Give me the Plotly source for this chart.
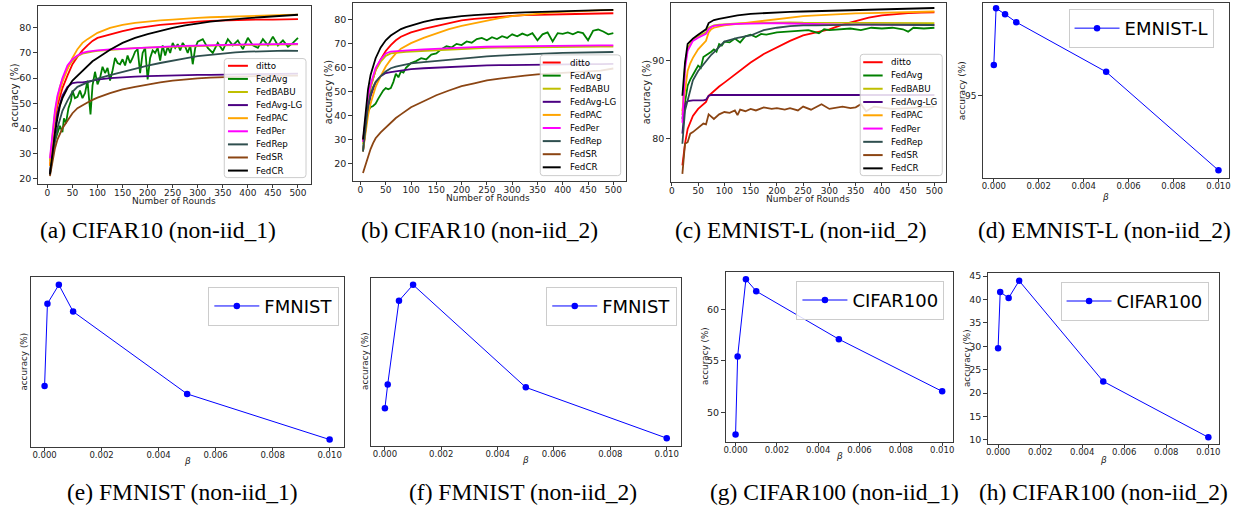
import plotly.graph_objects as go

W, H = 1239, 514

SERIES = ["ditto", "FedAvg", "FedBABU", "FedAvg-LG", "FedPAC", "FedPer", "FedRep", "FedSR", "FedCR"]
COLORS = ["#ff0000", "#008000", "#bfbf00", "#4b0082", "#ffa500", "#ff00ff", "#2f4f4f", "#8b4513", "#000000"]

# ---------------- panel (a) CIFAR10 non-iid_1 ----------------
R_A = [5, 10, 15, 20, 25, 30, 40, 50, 60, 70, 80, 90, 100, 125, 150, 175, 200, 225, 250, 275,
       300, 325, 350, 375, 400, 425, 450, 475, 500]
A_DITTO = [25, 35, 43, 49, 53, 56, 61, 65.5, 68.5, 71, 73, 74.8, 76, 77.5, 78.7, 79.8, 80.6, 81.2, 81.6, 82.1,
           82.5, 82.8, 83, 83.1, 83.2, 83.3, 83.3, 83.4, 83.5]
A_PAC = [25, 36, 45, 51, 55, 58.5, 63.5, 68, 71.5, 74, 75.5, 76.8, 78, 80, 81.2, 82, 82.6, 83, 83.3, 83.7,
         84, 84.2, 84.4, 84.6, 84.7, 84.9, 85, 85.1, 85.2]
A_PER = [28, 38, 47, 53, 57, 60, 65, 67.5, 69, 70, 70.5, 70.8, 71, 71.4, 71.7, 72, 72.2, 72.4, 72.6, 72.8,
         73, 73.1, 73.2, 73.3, 73.4, 73.5, 73.5, 73.6, 73.6]
A_BABU = [27, 37, 46, 52, 56.5, 59.5, 64, 67, 68.7, 69.7, 70.2, 70.5, 70.8, 71.2, 71.6, 71.9, 72.1, 72.3, 72.5, 72.7,
          72.8, 72.9, 73, 73.1, 73.2, 73.3, 73.3, 73.4, 73.4]
A_CR = [21.7, 30, 38, 44, 49, 52, 56, 59, 61, 63, 65, 66.7, 68, 71.3, 74, 76, 77.5, 78.8, 80, 81,
        81.8, 82.5, 83, 83.5, 83.9, 84.2, 84.5, 84.8, 85.2]
A_REP = [21.5, 29, 35, 40, 44, 47, 51, 54.5, 56.5, 57.5, 58.3, 59, 59.8, 61.2, 62.5, 63.8, 65, 66, 67, 67.8,
         68.7, 69.3, 69.8, 70.2, 70.5, 70.7, 70.8, 70.9, 70.8]
A_LG = [22, 31, 40, 46, 50, 53, 56.5, 58, 58.3, 58.3, 58.6, 59, 59.4, 60, 60.4, 60.6, 60.8, 61, 61.1, 61.2,
        61.3, 61.3, 61.4, 61.4, 61.5, 61.5, 61.6, 61.7, 61.8]
A_SR = [21, 27, 32, 35.5, 38, 40, 43, 46, 48, 49.3, 50.3, 51.3, 52.2, 54, 55.5, 56.5, 57.5, 58.3, 59, 59.5,
        59.9, 60.2, 60.4, 60.5, 60.7, 60.8, 60.9, 61, 61]
R_A_AVG = [5, 10, 15, 20, 25, 30, 33, 37, 42, 47, 50, 55, 60, 65, 70, 75, 80, 83, 86, 90,
           95, 100, 105, 110, 115, 120, 125, 130, 135, 140, 145, 150, 155, 160, 165, 170, 175, 180, 185, 190,
           195, 200, 205, 210, 215, 220, 225, 230, 235, 240, 245, 250, 255, 260, 265, 270, 275, 280, 285, 290,
           295, 300, 310, 320, 330, 340, 350, 360, 370, 380, 390, 400, 410, 420, 430, 440, 450, 460, 470, 480,
           490, 500]
A_AVG = [22, 30, 35, 38, 41, 38.5, 44, 42, 48, 51, 55, 52, 52.5, 55, 52, 54, 59, 52, 45.5, 57,
         62.5, 57.5, 60, 64.5, 62, 64, 59, 63, 68, 66, 65.5, 67.5, 65, 69, 66, 68, 70.5, 71.5, 62, 70,
         72, 59.5, 68, 71, 70, 72, 67, 73, 69, 72.5, 70, 74, 72, 73.5, 71, 74, 72.5, 70, 73, 65.5,
         72, 74.5, 75.5, 72, 70, 74, 71, 75.5, 73, 75, 71.5, 76, 73, 72, 75.5, 73, 76.5, 73, 75, 72.5,
         74, 76]

# ---------------- panel (b) CIFAR10 non-iid_2 ----------------
R_B = R_A
B_DITTO = [29, 38, 46, 52, 56, 59, 63.5, 67, 69.5, 71.5, 73, 74, 74.8, 76.3, 77.5, 78.7, 79.8, 80.5, 81, 81.4,
           81.7, 82, 82.2, 82.3, 82.4, 82.5, 82.6, 82.7, 82.8]
B_PAC = [25, 33, 40, 45, 49, 52, 56.5, 60.5, 63.5, 66, 68, 69.3, 70.3, 72.5, 74.5, 76.2, 77.5, 78.7, 79.8, 80.8,
         81.6, 82.2, 82.7, 83.1, 83.4, 83.7, 83.9, 84, 84.1]
B_CR = [30, 42, 51, 57, 61, 64, 68.5, 71.5, 73.5, 75, 76.2, 77, 77.7, 79.2, 80.3, 81, 81.6, 82, 82.4, 82.7,
        83, 83.2, 83.4, 83.6, 83.8, 83.9, 84, 84.1, 84.2]
B_PER = [29, 40, 48, 53, 57, 60, 63.5, 66, 66.8, 67, 67.2, 67.3, 67.4, 67.7, 68, 68.3, 68.5, 68.6, 68.8, 68.9,
         69, 69.1, 69.1, 69.2, 69.3, 69.3, 69.3, 69.4, 69.4]
B_BABU = [28, 39, 47, 52, 56, 59, 62.5, 65, 66, 66.3, 66.5, 66.7, 66.8, 67.1, 67.4, 67.7, 68, 68.1, 68.3, 68.4,
          68.5, 68.6, 68.6, 68.7, 68.7, 68.8, 68.8, 68.9, 68.9]
B_REP = [25, 36, 44, 49, 52, 54, 56.5, 58.5, 59.8, 60.5, 61, 61.5, 61.8, 62.4, 62.9, 63.5, 64, 64.4, 64.8, 65.1,
         65.4, 65.6, 65.8, 66, 66.2, 66.3, 66.5, 66.6, 66.6]
B_LG = [25, 35, 43, 48, 51.5, 54, 56.5, 57.8, 58.2, 58.5, 58.8, 59.1, 59.4, 59.8, 60.1, 60.4, 60.7, 60.9, 61, 61.1,
        61.2, 61.3, 61.3, 61.4, 61.4, 61.5, 61.5, 61.5, 61.6]
B_SR = [16, 19.5, 23, 26, 28.5, 30.5, 33, 35, 37, 39, 40.5, 42, 43.5, 46, 48.5, 50.5, 52.3, 53.5, 54.7, 55.5,
        56.2, 56.7, 57.2, 57.5, 57.7, 57.9, 58.2, 58.8, 59.7]
R_B_AVG = [5, 10, 15, 20, 25, 30, 35, 40, 45, 50, 55, 60, 65, 70, 75, 80, 85, 90, 95, 100,
           110, 120, 130, 140, 150, 160, 170, 180, 190, 200, 210, 220, 230, 240, 250, 260, 270, 280, 290, 300,
           310, 320, 330, 340, 350, 360, 370, 380, 390, 400, 410, 420, 430, 440, 450, 460, 470, 480, 490, 500]
B_AVG = [25, 35, 42, 43.5, 44, 45, 47, 49, 50.5, 51.5, 51, 51.5, 54, 57.5, 56, 58.5, 58, 60, 61, 62,
         62.8, 64, 63.5, 65.5, 66, 67.8, 69, 68.5, 70, 69.5, 71, 70.5, 72, 72.5, 71.5, 72.8, 72, 73.2, 72.5, 74,
         73.2, 74.3, 73.5, 74.5, 71.5, 74, 74.8, 71, 74.5, 74.2, 74.8, 74, 75, 74.5, 71.5, 75.5, 76, 75.2, 74, 74.5]

# ---------------- panel (c) EMNIST-L non-iid_2 ----------------
R_C = [20, 25, 30, 35, 40, 50, 60, 65, 70, 75, 80, 90, 100, 125, 150, 175, 200, 225, 250, 275,
       300, 325, 350, 375, 400, 425, 450, 475, 500]
C_CR = [85.5, 89.8, 92.2, 92.6, 92.9, 93.4, 93.8, 94.1, 94.9, 95.1, 95.3, 95.45, 95.6, 95.9, 96.1, 96.2, 96.3,
        96.35, 96.4, 96.45, 96.5, 96.55, 96.6, 96.62, 96.65, 96.7, 96.75, 96.8, 96.85]
C_PAC = [83.5, 86.5, 88.7, 89.7, 90.4, 91.5, 92.2, 92.6, 93.7, 94.1, 94.3, 94.5, 94.6, 94.8, 95, 95.2, 95.4,
         95.6, 95.8, 95.9, 96, 96.1, 96.15, 96.2, 96.25, 96.3, 96.3, 96.35, 96.4]
C_PER = [82, 89, 91.3, 92, 92.6, 93, 93.3, 93.5, 94.1, 94.4, 94.55, 94.65, 94.7, 94.8, 94.85, 94.9, 94.9,
         94.85, 94.8, 94.75, 94.7, 94.7, 94.7, 94.7, 94.65, 94.65, 94.65, 94.65, 94.65]
C_BABU = [83, 89.5, 91.6, 92.3, 92.8, 93.2, 93.5, 93.7, 94.3, 94.5, 94.6, 94.7, 94.75, 94.85, 94.9, 94.95, 95,
          95, 94.95, 94.95, 94.9, 94.9, 94.9, 94.9, 94.9, 94.9, 94.9, 94.9, 94.9]
C_DITTO = [76.5, 79.3, 81.2, 82.2, 82.9, 83.8, 84.4, 84.7, 85.5, 85.8, 86.2, 86.7, 87.2, 88.5, 89.8, 90.9, 91.8,
           92.6, 93.3, 93.7, 94.1, 94.7, 95.2, 95.6, 95.9, 96.05, 96.2, 96.25, 96.3]
C_REP = [79.3, 83.6, 84.9, 86.3, 87.5, 88.7, 89.6, 90, 90.5, 90.8, 91.1, 91.8, 92.5, 93.0, 93.3, 94.0, 94.3,
         94.5, 94.6, 94.6, 94.65, 94.7, 94.7, 94.7, 94.7, 94.7, 94.7, 94.7, 94.65]
C_LG = [80.6, 84.4, 84.8, 84.85, 84.9, 84.9, 84.9, 85.0, 85.5, 85.6, 85.6, 85.65, 85.65, 85.65, 85.65, 85.65,
        85.6, 85.6, 85.6, 85.6, 85.6, 85.6, 85.6, 85.6, 85.6, 85.6, 85.6, 85.6, 85.6]
R_C_AVG = [20, 25, 30, 35, 40, 45, 50, 55, 60, 65, 70, 75, 80, 85, 90, 95, 100, 110, 120, 130,
           140, 150, 160, 170, 180, 190, 200, 220, 240, 260, 280, 290, 300, 320, 340, 360, 380, 400, 420, 440,
           450, 460, 480, 500]
C_AVG = [82.5, 84.9, 86.8, 87.6, 88.3, 88.8, 89.4, 89.1, 90.5, 90.7, 90.9, 91.2, 91.5, 91.2, 92.2, 92.0, 92.5,
         92.4, 92.9, 92.4, 93.2, 93.4, 93.1, 93.5, 93.4, 93.6, 93.7, 93.8, 93.9, 94.0, 93.6, 94.1, 94.0, 94.1,
         94.2, 94.0, 94.3, 94.2, 94.3, 94.1, 93.8, 94.3, 94.2, 94.3]
R_C_SR = [20, 25, 30, 35, 40, 50, 60, 65, 70, 75, 80, 90, 100, 110, 120, 125, 130, 140, 150, 160,
          175, 190, 200, 215, 225, 240, 250, 265, 275, 285, 300, 315, 325, 340, 350, 360, 370, 385, 400, 420,
          450, 475, 500]
C_SR = [75.4, 79.3, 79.5, 80.6, 80.8, 81.4, 81.9, 81.8, 83.1, 82.8, 82.5, 83.1, 83.4, 83.3, 83.6, 83.0, 83.7,
        83.5, 83.8, 83.6, 84.0, 83.8, 83.9, 83.7, 83.9, 83.6, 84.1, 83.7, 84.0, 84.4, 83.8, 84.0, 84.1, 83.9,
        84.0, 84.4, 83.5, 84.1, 84.0, 83.8, 83.9, 84.0, 84.1]

# ---------------- beta sweeps (d)-(h) ----------------
BETA = [0, 0.0001, 0.0005, 0.001, 0.005, 0.01]
D_EMNIST = [95.31, 95.88, 95.82, 95.74, 95.24, 94.25]
E_FMNIST = [85.60, 86.43, 86.62, 86.35, 85.52, 85.06]
F_FMNIST = [85.39, 85.63, 86.47, 86.63, 85.60, 85.09]
G_CIFAR100 = [47.83, 55.43, 62.93, 61.77, 57.10, 52.03]
H_CIFAR100 = [29.6, 41.6, 40.33, 44.0, 22.5, 10.55]

ROUND_TICKS = [0, 50, 100, 150, 200, 250, 300, 350, 400, 450, 500]
BETA_TICKS = [0, 0.002, 0.004, 0.006, 0.008, 0.01]

CAPTIONS = ["(a) CIFAR10 (non-iid_1)", "(b) CIFAR10 (non-iid_2)", "(c) EMNIST-L (non-iid_2)",
            "(d) EMNIST-L (non-iid_2)", "(e) FMNIST (non-iid_1)", "(f) FMNIST (non-iid_2)",
            "(g) CIFAR100 (non-iid_1)", "(h) CIFAR100 (non-iid_2)"]

FRAME = "#3a3a3a"
TXT = "#222222"
FONT = "DejaVu Sans"


def px(x):
    return x / W


def py(y):
    return 1 - y / H


def xdom(x0, x1):
    return [px(x0), px(x1)]


def ydom(y0, y1):
    return [py(y1), py(y0)]


def axis(dom, rng, tickvals, size, anchor, fmt=None, show=True, standoff=0):
    d = dict(domain=dom, range=rng, showline=True, mirror=True, linecolor=FRAME, linewidth=1.3,
             ticks="outside" if show else "", ticklen=3.5, tickcolor=FRAME, tickwidth=1,
             showticklabels=show, tickfont=dict(size=size, color=TXT, family=FONT),
             showgrid=False, zeroline=False, anchor=anchor, ticklabelstandoff=standoff)
    if tickvals is not None:
        d["tickmode"] = "array"
        d["tickvals"] = tickvals
    if fmt:
        d["tickformat"] = fmt
    return d


fig = go.Figure()

# panels a-c curves
panel_data = [
    ("x", "y", [(R_A, A_DITTO), (R_A_AVG, A_AVG), (R_A, A_BABU), (R_A, A_LG), (R_A, A_PAC),
                (R_A, A_PER), (R_A, A_REP), (R_A, A_SR), (R_A, A_CR)]),
    ("x2", "y2", [(R_B, B_DITTO), (R_B_AVG, B_AVG), (R_B, B_BABU), (R_B, B_LG), (R_B, B_PAC),
                  (R_B, B_PER), (R_B, B_REP), (R_B, B_SR), (R_B, B_CR)]),
    ("x3", "y3", [(R_C, C_DITTO), (R_C_AVG, C_AVG), (R_C, C_BABU), (R_C, C_LG), (R_C, C_PAC),
                  (R_C, C_PER), (R_C, C_REP), (R_C_SR, C_SR), (R_C, C_CR)]),
]
for xa, ya, curves in panel_data:
    for (xs, ys), name, col in zip(curves, SERIES, COLORS):
        fig.add_trace(go.Scatter(x=xs, y=ys, mode="lines", name=name, showlegend=False,
                                 line=dict(color=col, width=1.8), xaxis=xa, yaxis=ya,
                                 hoverinfo="skip"))

# beta panels
beta_panels = [("x4", "y4", D_EMNIST, "EMNIST-L", "legend"),
               ("x5", "y5", E_FMNIST, "FMNIST", "legend2"),
               ("x6", "y6", F_FMNIST, "FMNIST", "legend3"),
               ("x7", "y7", G_CIFAR100, "CIFAR100", "legend4"),
               ("x8", "y8", H_CIFAR100, "CIFAR100", "legend5")]
for xa, ya, vals, name, lg in beta_panels:
    fig.add_trace(go.Scatter(x=BETA, y=vals, mode="lines+markers", name=name, legend=lg,
                             line=dict(color="#0000ff", width=1), marker=dict(size=6.5, color="#0000ff"),
                             xaxis=xa, yaxis=ya, hoverinfo="skip"))

layout = dict(width=W, height=H, margin=dict(l=0, r=0, t=0, b=0), paper_bgcolor="white",
              plot_bgcolor="white", font=dict(family=FONT, color=TXT))

# axes (pixel boxes)
layout["xaxis"] = axis(xdom(36, 310), [-19, 526], ROUND_TICKS, 9, "y", standoff=-3)
layout["yaxis"] = axis(ydom(4, 183), [18, 88.7], [20, 30, 40, 50, 60, 70, 80], 9.5, "x")
layout["xaxis2"] = axis(xdom(352, 626), [-15, 525], ROUND_TICKS, 9, "y2", standoff=-3)
layout["yaxis2"] = axis(ydom(1, 180), [12.8, 87.1], [20, 30, 40, 50, 60, 70, 80], 9.5, "x2")
layout["xaxis3"] = axis(xdom(671, 947), [-2, 522], ROUND_TICKS, 9, "y3", standoff=-3)
layout["yaxis3"] = axis(ydom(1, 181), [74.4, 97.5], [80, 90], 9.5, "x3")
layout["xaxis4"] = axis(xdom(984, 1231), [-0.00049, 0.01047], BETA_TICKS, 8.5, "y4", ".3f", standoff=-3)
layout["yaxis4"] = axis(ydom(1, 177), [94.176, 95.933], [95], 9, "x4")
layout["xaxis5"] = axis(xdom(29, 343), [-0.00048, 0.0105], BETA_TICKS, 8.5, "y5", ".3f", standoff=-3)
layout["yaxis5"] = axis(ydom(277, 448), [84.99, 86.70], None, 9, "x5", show=False)
layout["xaxis6"] = axis(xdom(370, 681), [-0.0005, 0.0105], BETA_TICKS, 8.5, "y6", ".3f", standoff=-3)
layout["yaxis6"] = axis(ydom(278, 447), [85.016, 86.70], None, 9, "x6", show=False)
layout["xaxis7"] = axis(xdom(726, 954), [-0.00048, 0.01052], BETA_TICKS, 8.5, "y7", ".3f", standoff=-3)
layout["yaxis7"] = axis(ydom(272, 443), [47.15, 63.65], [50, 55, 60], 9.5, "x7")
layout["xaxis8"] = axis(xdom(989, 1221), [-0.00049, 0.01051], BETA_TICKS, 8.5, "y8", ".3f", standoff=-3)
layout["yaxis8"] = axis(ydom(273, 445), [9.22, 45.69], [10, 15, 20, 25, 30, 35, 40, 45], 9.5, "x8")


def lg(x, y):
    return dict(x=px(x), y=py(y), xanchor="left", yanchor="top", bgcolor="rgba(255,255,255,0.85)",
                bordercolor="#cccccc", borderwidth=1, font=dict(size=18, family=FONT, color="black"),
                itemwidth=45)


layout["legend"] = lg(1070, 7)
layout["legend2"] = lg(207, 287)
layout["legend3"] = lg(546, 287)
layout["legend4"] = lg(797, 281)
layout["legend5"] = lg(1062, 282)

shapes = []
annotations = []


def rrect(x0, y0, x1, y1, r=3):
    rx, ry = r / W, r / H
    X0, X1, Y0, Y1 = px(x0), px(x1), py(y1), py(y0)
    p = (f"M{X0+rx},{Y0} L{X1-rx},{Y0} Q{X1},{Y0} {X1},{Y0+ry} L{X1},{Y1-ry} Q{X1},{Y1} {X1-rx},{Y1} "
         f"L{X0+rx},{Y1} Q{X0},{Y1} {X0},{Y1-ry} L{X0},{Y0+ry} Q{X0},{Y0} {X0+rx},{Y0} Z")
    return dict(type="path", path=p, xref="paper", yref="paper", fillcolor="rgba(255,255,255,0.85)",
                line=dict(color="#cccccc", width=1), layer="above")


# custom compact legends for panels a-c (matplotlib-style spacing)
legend_boxes = [
    (223, 57, 305, 177, 64.3, 13.2, 226.7, 246.7, 252.5),
    (540, 53.3, 620.7, 175, 61.0, 13.2, 542.5, 560.5, 567.5),
    (861, 52.7, 943.3, 175, 60.7, 13.37, 864, 883.5, 890),
]
for bx0, by0, bx1, by1, ey0, dy, lx0, lx1, tx in legend_boxes:
    shapes.append(rrect(bx0, by0, bx1, by1))
    for i, (name, col) in enumerate(zip(SERIES, COLORS)):
        yy = ey0 + dy * i
        shapes.append(dict(type="line", xref="paper", yref="paper", x0=px(lx0), x1=px(lx1),
                           y0=py(yy), y1=py(yy), line=dict(color=col, width=2), layer="above"))
        annotations.append(dict(text=name, x=px(tx), y=py(yy), xref="paper", yref="paper",
                                xanchor="left", yanchor="middle", showarrow=False,
                                font=dict(size=8.7, family=FONT, color="black")))


def label(text, x, y, size, angle=0, family=FONT, italic=False):
    t = f"<i>{text}</i>" if italic else text
    annotations.append(dict(text=t, x=px(x), y=py(y), xref="paper", yref="paper", xanchor="center",
                            yanchor="middle", showarrow=False, textangle=angle,
                            font=dict(size=size, family=family, color=TXT)))


# y-axis titles
label("accuracy (%)", 12.5, 94, 9.8, -90)
label("accuracy (%)", 327, 91, 9.8, -90)
label("accuracy (%)", 646, 91, 9.8, -90)
label("accuracy (%)", 963, 89, 9, -90)
label("accuracy (%)", 22.5, 362, 8.8, -90)
label("accuracy (%)", 364, 362, 8.8, -90)
label("accuracy (%)", 706, 357, 8.8, -90)
label("accuracy (%)", 968, 359, 8.8, -90)

# x-axis titles
label("Number of Rounds", 172.5, 201, 9)
label("Number of Rounds", 488, 198, 9)
label("Number of Rounds", 808.5, 199, 9)
label("β", 1107, 197, 9, italic=True)
label("β", 186, 463, 9, italic=True)
label("β", 525, 462, 9, italic=True)
label("β", 840, 458, 9, italic=True)
label("β", 1105, 462, 9, italic=True)

# sub-captions
cap_pos = [(157, 230), (479, 230), (802, 230), (1106, 230), (181, 494), (523, 494), (835, 494), (1105, 494)]
for txt, (cx, cy) in zip(CAPTIONS, cap_pos):
    annotations.append(dict(text=txt, x=px(cx), y=py(cy), xref="paper", yref="paper", xanchor="center",
                            yanchor="middle", showarrow=False,
                            font=dict(size=23.5, family="Liberation Serif", color="black")))

layout["shapes"] = shapes
layout["annotations"] = annotations
fig.update_layout(**layout)

fig.write_html("out.html", config={"displayModeBar": False},
               post_script="document.body.style.margin='0px';document.body.style.overflow='hidden';")
